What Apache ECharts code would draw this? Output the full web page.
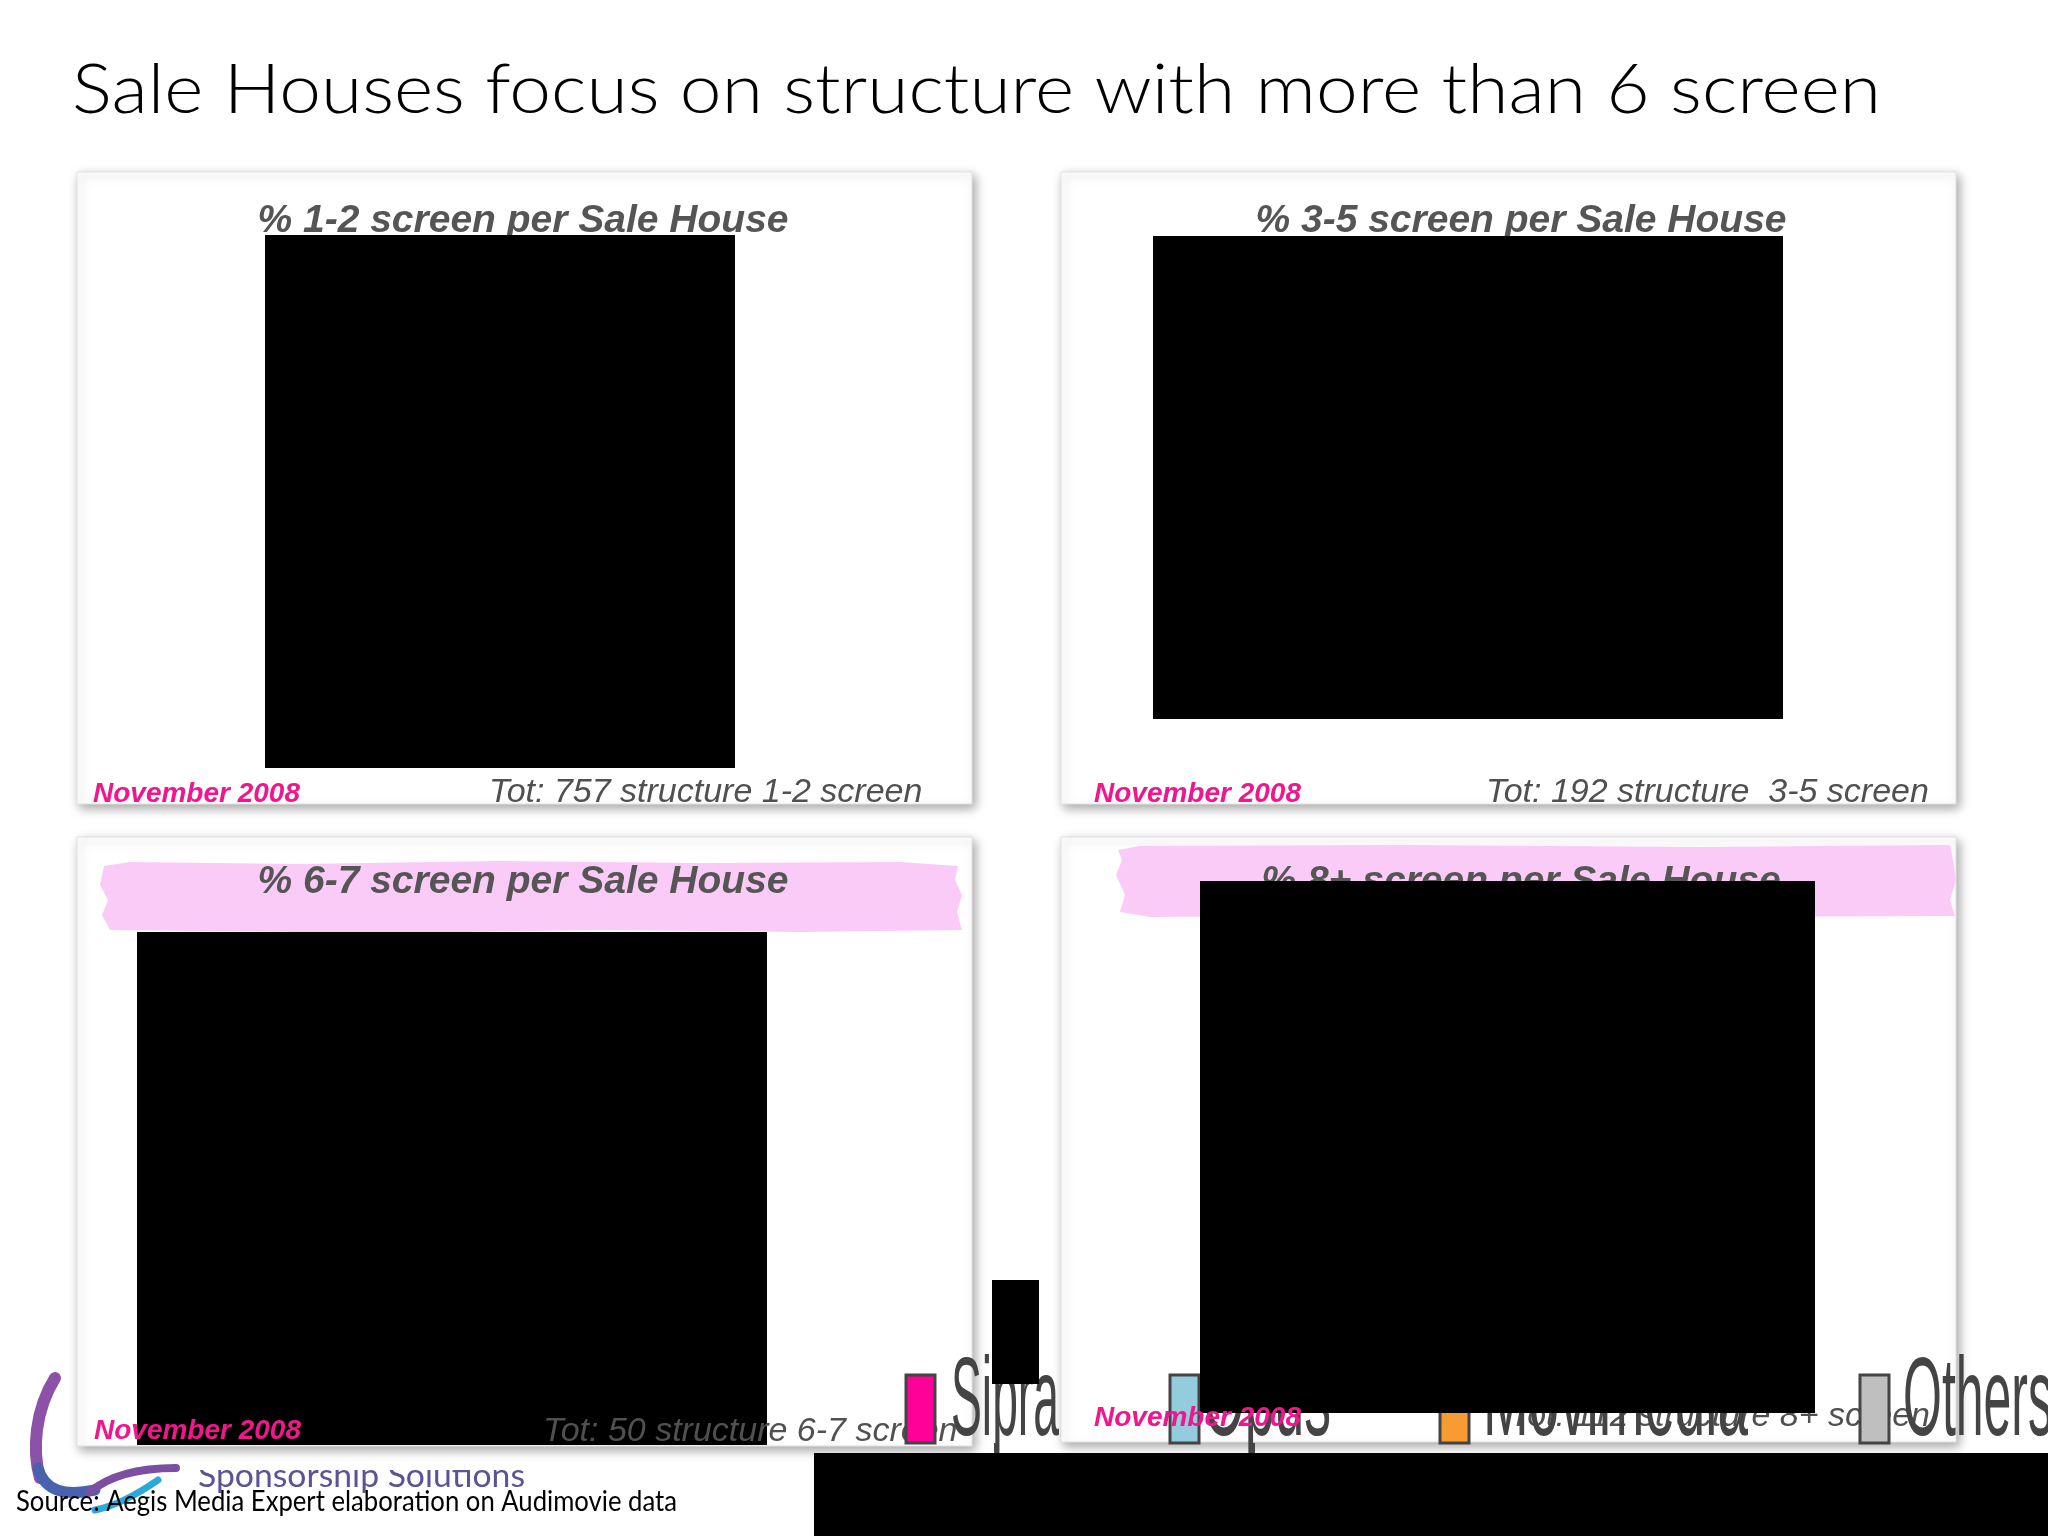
<!DOCTYPE html>
<html><head><meta charset="utf-8">
<script src="https://cdn.jsdelivr.net/npm/echarts@6/dist/echarts.min.js"></script>
<style>html,body{margin:0;padding:0;background:#fff}#c{width:2048px;height:1536px}</style>
</head><body><div id="c"></div>
<script>
// ---------- data ----------
const slideTitle = 'Sale Houses focus on structure with more than 6 screen';
const saleHouses = ['Sipra', 'Opus', 'Movimedia', 'Others'];
const panelScreens = ['1-2', '3-5', '6-7', '8+'];
const panelTotals = [757, 192, 50, 112];
const periodLabel = 'November 2008';
const sourceLabel = 'Source: Aegis Media Expert elaboration on Audimovie data';
const logoLabel = 'Sponsorship Solutions';

// ---------- styles / layout ----------
const houseColors = ['#FF0099', '#93CDDD', '#F99B33', '#BFBFBF'];
const ARIAL = '"Liberation Sans", Arial, sans-serif';
const GOTHIC = 'Lato, "Open Sans", sans-serif';
const BASE = 0.35;
const cv = document.createElement('canvas').getContext('2d');
function fit(text, font, w) { cv.font = font; return w / cv.measureText(text).width; }
function txt(str, x, baseline, fs, font, fill, z, opt) {
  opt = opt || {};
  return { type: 'text', x: x, y: baseline - BASE * fs, z: z, scaleX: opt.scaleX || 1, silent: true,
    style: { text: str, font: font, fill: fill, textAlign: opt.align || 'left', verticalAlign: 'middle', textVerticalAlign: 'middle' } };
}
function rect(x, y, w, h, fill, z, extra) {
  return Object.assign({ type: 'rect', z: z, silent: true, shape: { x: x, y: y, width: w, height: h }, style: { fill: fill } }, extra || {});
}

const panels = [
  { x: 77, y: 172, w: 895, h: 632, titleCx: 523, titleBase: 235, novX: 93, novBase: 804, totX: 489, totBase: 804, totAlign: 'left' },
  { x: 1061, y: 172, w: 895, h: 632, titleCx: 1521, titleBase: 235, novX: 1094, novBase: 804, totX: 1486, totBase: 804, totAlign: 'left' },
  { x: 77, y: 837, w: 895, h: 609, titleCx: 523, titleBase: 896, novX: 94, novBase: 1441, totX: 543, totBase: 1443, totAlign: 'left' },
  { x: 1061, y: 837, w: 895, h: 605, titleCx: 1521, titleBase: 896, novX: 1094, novBase: 1428, totX: 1930, totBase: 1428, totAlign: 'right' }
];
const redactions = [
  [265, 235, 470, 533, 4], [1153, 236, 630, 483, 4], [137, 932, 630, 513, 4],
  [1200, 881, 615, 532, 7], [992, 1280, 47, 104, 7], [814, 1453, 1234, 83, 7]
];
const legendLayout = [
  { mx: 906, tx: 951, tw: 108 }, { mx: 1170, tx: 1203, tw: 128 },
  { mx: 1440, tx: 1483, tw: 265 }, { mx: 1860, tx: 1903, tw: 150 }
];

const els = [];
// logo (underneath panels)
const logoStroke = (pts, color, w) => ({ type: 'bezierCurve', z: 0, silent: true,
  shape: { x1: pts[0], y1: pts[1], cpx1: pts[2], cpy1: pts[3], cpx2: pts[4], cpy2: pts[5], x2: pts[6], y2: pts[7] },
  style: { stroke: color, lineWidth: w, fill: null, lineCap: 'round' } });
els.push(logoStroke([55, 1378, 35, 1410, 32, 1450, 40, 1478], '#8B52A8', 12));
els.push(logoStroke([38, 1468, 45, 1492, 65, 1496, 95, 1490], '#4A62AE', 11));
els.push(logoStroke([90, 1492, 110, 1475, 140, 1468, 176, 1468], '#7D4FA2', 8));
els.push(logoStroke([95, 1510, 115, 1506, 135, 1496, 158, 1480], '#2BA9D9', 7));
els.push(txt(logoLabel, 198, 1488, 33, '400 33px ' + GOTHIC, '#5D5394', 0, { scaleX: fit(logoLabel, '400 33px ' + GOTHIC, 327) }));
els.push(rect(190, 1449, 345, 21, '#ffffff', 0.5));

// title
const titleFont = '300 68px ' + GOTHIC;
els.push(txt(slideTitle, 72, 115, 68, titleFont, '#000', 1, { scaleX: fit(slideTitle, titleFont, 1809) }));

// panels
panels.forEach((p, i) => {
  els.push(rect(p.x, p.y, p.w, p.h, '#ffffff', 1, { style: { fill: '#fff', stroke: '#e2e2e2', lineWidth: 1,
    shadowBlur: 10, shadowColor: 'rgba(0,0,0,0.35)', shadowOffsetX: 3, shadowOffsetY: 4 } }));
});
// pink brush behind lower titles
els.push({ type: 'polygon', z: 2, silent: true, style: { fill: '#FBCBF8' }, shape: { points: [
  [104, 866], [130, 862], [300, 864], [500, 861], [700, 863], [900, 862], [958, 866], [955, 880], [962, 895], [957, 912], [962, 930],
  [800, 932], [600, 930], [400, 933], [200, 931], [110, 930], [102, 915], [108, 900], [100, 885]] } });
els.push({ type: 'polygon', z: 2, silent: true, style: { fill: '#FBCBF8' }, shape: { points: [
  [1118, 850], [1140, 846], [1400, 845], [1700, 847], [1950, 845], [1953, 860], [1956, 880], [1950, 900], [1955, 916],
  [1700, 917], [1400, 915], [1150, 917], [1120, 912], [1125, 895], [1116, 875], [1122, 860]] } });

panels.forEach((p, i) => {
  els.push(txt('% ' + panelScreens[i] + ' screen per Sale House', p.titleCx, p.titleBase, 39, 'italic bold 39px ' + ARIAL, '#555555', 3, { align: 'center' }));
  const tot = 'Tot: ' + panelTotals[i] + ' structure' + (i === 1 ? '  ' : ' ') + panelScreens[i] + ' screen';
  els.push(txt(tot, p.totX, p.totBase, 34, 'italic 34px ' + ARIAL, '#505050', i === 3 ? 4.5 : 5, { align: p.totAlign }));
  els.push(txt(periodLabel, p.novX, p.novBase, 28, 'italic bold 28px ' + ARIAL, '#F0168C', i === 3 ? 8 : 5));
});

// redaction boxes
redactions.forEach(r => els.push(rect(r[0], r[1], r[2], r[3], '#000', r[4])));

// legend
saleHouses.forEach((name, i) => {
  const L = legendLayout[i];
  els.push(rect(L.mx, 1375, 29, 68, houseColors[i], 6, { style: { fill: houseColors[i], stroke: '#444', lineWidth: 3 } }));
  const f = '400 112px ' + ARIAL;
  els.push(txt(name, L.tx, 1443, 112, f, '#444', 6, { scaleX: fit(name, f, L.tw) }));
});
els.push({ type: 'line', z: 6, silent: true, shape: { x1: 995, y1: 1443, x2: 995, y2: 1453 }, style: { stroke: '#444', lineWidth: 2 } });
els.push({ type: 'line', z: 6, silent: true, shape: { x1: 1254, y1: 1443, x2: 1254, y2: 1453 }, style: { stroke: '#444', lineWidth: 2 } });

// source
const srcFont = '400 28px ' + GOTHIC;
els.push(txt(sourceLabel, 16, 1512, 28, srcFont, '#000', 6, { scaleX: fit(sourceLabel, srcFont, 661) }));

const chart = echarts.init(document.getElementById('c'), null, { renderer: 'canvas', width: 2048, height: 1536 });
chart.setOption({ backgroundColor: '#ffffff', animation: false, graphic: { elements: els } });
</script></body></html>
